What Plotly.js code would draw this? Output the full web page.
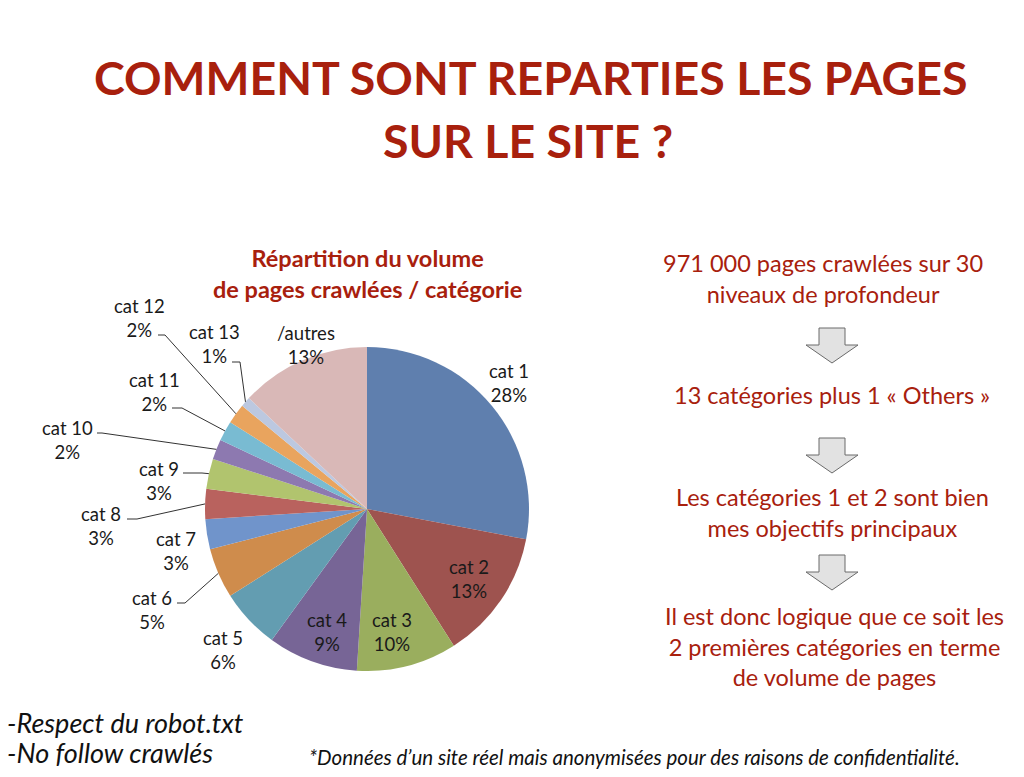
<!DOCTYPE html>
<html>
<head>
<meta charset="utf-8">
<script src="https://cdn.plot.ly/plotly-3.0.1.min.js"></script>
<style>html,body{margin:0;padding:0;background:#fff;}#chart{width:1024px;height:777px;}</style>
</head>
<body>
<div id="chart"></div>
<script>
// ---- data ----
const categories = ['cat 1','cat 2','cat 3','cat 4','cat 5','cat 6','cat 7','cat 8','cat 9','cat 10','cat 11','cat 12','cat 13','/autres'];
const shares = [28,13,10,9,6,5,3,3,3,2,2,2,1,13];
const sliceColors = ['#5F7FAE','#9E534F','#9AAE5E','#776596','#639DB1','#CF8C4C','#7094CB','#B9625E','#B1C46E','#8D79B0','#79BBD2','#E9A45E','#BCC8E0','#D9B8B7'];
const titleLines = ['COMMENT SONT REPARTIES LES PAGES','SUR LE SITE ?'];
const chartTitle = 'Répartition du volume<br>de pages crawlées / catégorie';
const sideTexts = ['971 000 pages crawlées sur 30<br>niveaux de profondeur','13 catégories plus 1 « Others »','Les catégories 1 et 2 sont bien<br>mes objectifs principaux','Il est donc logique que ce soit les<br>2 premières catégories en terme<br>de volume de pages'];
const notes = ['-Respect du robot.txt','-No follow crawlés'];
const footnote = '*Données d’un site réel mais anonymisées pour des raisons de confidentialité.';

// ---- layout (pixel positions) ----
const W = 1024, H = 777;
const cx = 367, cy = 509, R = 162;
const px = x => x / W, py = y => 1 - y / H;
const RED = '#A8200D';
const FONT = 'Lato, "Open Sans", sans-serif';

// label centres and elbow points for each slice label
const labelPos = [[509,383],[469,579],[392,632],[327,632],[223,650],[152,610],[176,551],[101,526],[159,481],[67,440],[154,392],[139,318],[214,344],[306,345]];
const elbows = [null,null,null,null,null,[[177,603],[185,603]],null,[[127,519],[137,519]],[[183,473],[202,473]],[[97,433],[102,433]],[[172,408],[182,408]],[[158,335],[165,335]],[[232,362],[240,362]],null];

const total = shares.reduce((a,b)=>a+b,0);
let cum = 0;
const annotations = [];
const shapes = [];
shares.forEach((v,i)=>{
  const mid = (cum + v/2) / total * 2 * Math.PI;
  cum += v;
  const ex = cx + R*Math.sin(mid), ey = cy - R*Math.cos(mid);
  const pct = Math.round(v/total*100) + '%';
  annotations.push({x: px(labelPos[i][0]), y: py(labelPos[i][1]), xref:'paper', yref:'paper', text: categories[i] + '<br>' + pct, showarrow:false, xanchor:'center', yanchor:'middle', font:{family:FONT, size:18.5, color:'#1a1a1a'}});
  if (elbows[i]) {
    const [a,b] = elbows[i];
    shapes.push({type:'path', xref:'paper', yref:'paper', path:`M ${px(a[0])} ${py(a[1])} L ${px(b[0])} ${py(b[1])} L ${px(ex)} ${py(ey)}`, line:{color:'#333', width:1}});
  }
});

// titles
annotations.push({x:px(531), y:py(77), xref:'paper', yref:'paper', text:'<b>'+titleLines[0]+'</b>', showarrow:false, xanchor:'center', yanchor:'middle', font:{family:FONT, size:46.5, color:RED}});
annotations.push({x:px(528), y:py(140), xref:'paper', yref:'paper', text:'<b>'+titleLines[1]+'</b>', showarrow:false, xanchor:'center', yanchor:'middle', font:{family:FONT, size:46.5, color:RED}});
annotations.push({x:px(367), y:py(273), xref:'paper', yref:'paper', text:'<b>'+chartTitle+'</b>', showarrow:false, xanchor:'center', yanchor:'middle', font:{family:FONT, size:23.5, color:RED}});

// side texts
const sideX = [823, 832, 832, 834];
const sideY = [278, 395, 512, 646];
sideTexts.forEach((t,i)=>{
  annotations.push({x:px(sideX[i]), y:py(sideY[i]), xref:'paper', yref:'paper', text:t, showarrow:false, xanchor:'center', yanchor:'middle', font:{family:FONT, size:23.5, color:RED}});
});
// notes
annotations.push({x:px(5), y:py(722), xref:'paper', yref:'paper', text:'<i>'+notes[0]+'</i>', showarrow:false, xanchor:'left', yanchor:'middle', font:{family:FONT, size:27, color:'#111'}});
annotations.push({x:px(5), y:py(752), xref:'paper', yref:'paper', text:'<i>'+notes[1]+'</i>', showarrow:false, xanchor:'left', yanchor:'middle', font:{family:FONT, size:27, color:'#111'}});
annotations.push({x:px(634), y:py(757), xref:'paper', yref:'paper', text:'<i>'+footnote+'</i>', showarrow:false, xanchor:'center', yanchor:'middle', font:{family:FONT, size:20.5, color:'#111'}});

// down arrows
[328, 438, 555].forEach(t=>{
  const pts = [[819,t],[845,t],[845,t+17],[858,t+17],[832,t+35],[806,t+17],[819,t+17]];
  shapes.push({type:'path', xref:'paper', yref:'paper', path:'M ' + pts.map(p=>px(p[0])+' '+py(p[1])).join(' L ') + ' Z', fillcolor:'#E2E2E2', line:{color:'#6a6a6a', width:1}});
});

const trace = {
  type:'pie', labels:categories, values:shares, sort:false, direction:'clockwise', rotation:0,
  marker:{colors:sliceColors, line:{width:0}}, textinfo:'none', hoverinfo:'label+percent',
  domain:{x:[px(cx-R), px(cx+R)], y:[py(cy+R), py(cy-R)]}
};
Plotly.newPlot('chart', [trace], {
  width:W, height:H, margin:{l:0,r:0,t:0,b:0}, showlegend:false,
  paper_bgcolor:'#fff', plot_bgcolor:'#fff', annotations, shapes
}, {displayModeBar:false, staticPlot:true});
</script>
</body>
</html>
